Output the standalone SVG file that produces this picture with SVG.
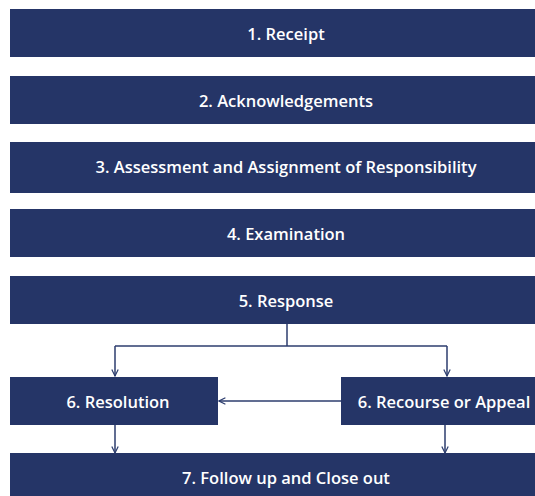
<svg xmlns="http://www.w3.org/2000/svg" width="535" height="496" viewBox="0 0 535 496">
<style>
.box{fill:#253567}
.t{font-family:"Open Sans","DejaVu Sans",sans-serif;font-size:16.5px;font-weight:600;fill:#ffffff;text-anchor:middle;dominant-baseline:central}
.c{stroke:#2c3d6e;stroke-width:1.5;fill:none}
</style>
<defs>
<marker id="a" viewBox="0 0 10 10" refX="9" refY="5" markerWidth="8" markerHeight="8" markerUnits="userSpaceOnUse" orient="auto">
<path d="M1,1 L9,5 L1,9" fill="none" stroke="#2c3d6e" stroke-width="1.5"/>
</marker>
</defs>
<rect width="535" height="496" fill="#ffffff"/>
<g id="n1"><rect class="box" x="10" y="9" width="525" height="48"/><text class="t" x="286" y="33">1. Receipt</text></g>
<g id="n2"><rect class="box" x="10" y="76" width="525" height="48"/><text class="t" x="286" y="100">2. Acknowledgements</text></g>
<g id="n3"><rect class="box" x="10" y="142" width="525" height="51"/><text class="t" x="286" y="166">3. Assessment and Assignment of Responsibility</text></g>
<g id="n4"><rect class="box" x="10" y="209" width="525" height="48"/><text class="t" x="286" y="233">4. Examination</text></g>
<g id="n5"><rect class="box" x="10" y="276" width="525" height="48"/><text class="t" x="286" y="300">5. Response</text></g>
<g id="n6a"><rect class="box" x="10" y="377" width="208" height="48"/><text class="t" x="118" y="401">6. Resolution</text></g>
<g id="n6b"><rect class="box" x="341" y="377" width="194" height="48"/><text class="t" x="444" y="401">6. Recourse or Appeal</text></g>
<g id="n7"><rect class="box" x="10" y="453" width="525" height="43"/><text class="t" x="286" y="477">7. Follow up and Close out</text></g>
<g id="connectors">
<path class="c" d="M287,324 V346"/>
<path class="c" d="M115,346 H447" />
<path class="c" d="M115,346 V376" marker-end="url(#a)"/>
<path class="c" d="M447,346 V376" marker-end="url(#a)"/>
<path class="c" d="M341,401 H219" marker-end="url(#a)"/>
<path class="c" d="M115,425 V453" stroke-width="1" marker-end="url(#a)"/>
<path class="c" d="M445,425 V453" stroke-width="1" marker-end="url(#a)"/>
</g>
</svg>
